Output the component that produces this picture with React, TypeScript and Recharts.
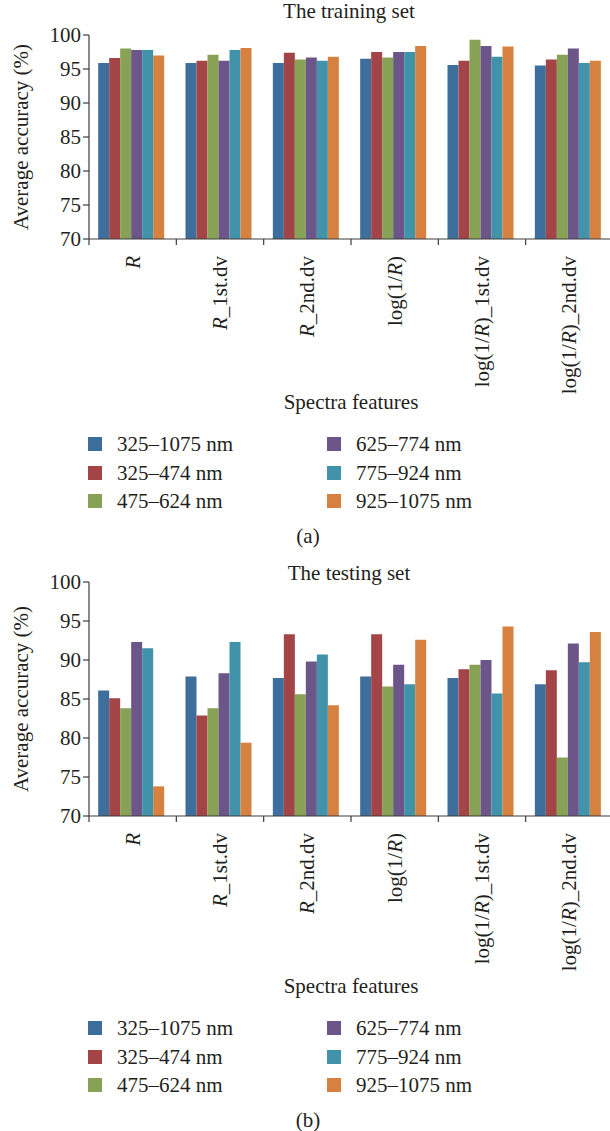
import React from 'react';
import { BarChart, Bar, XAxis, YAxis, Label } from 'recharts';

const FONT = "'Liberation Serif', 'DejaVu Serif', serif";
const FS = 21;
const INK = '#231f20';
const AXIS = '#3c3c3c';

const FEATURES = ['R', 'R_1st.dv', 'R_2nd.dv', 'log(1/R)', 'log(1/R)_1st.dv', 'log(1/R)_2nd.dv'];
const BANDS = ['325–1075 nm', '325–474 nm', '475–624 nm', '625–774 nm', '775–924 nm', '925–1075 nm'];
const COLORS = ['#3e6e9c', '#a34546', '#87a155', '#6c5689', '#4193a9', '#d68140'];
const Y_TICKS = [70, 75, 80, 85, 90, 95, 100];

// training set, one array per wavelength band (in FEATURES order)
const train325_1075 = [95.9, 95.9, 95.9, 96.5, 95.6, 95.5];
const train325_474 = [96.6, 96.2, 97.4, 97.5, 96.2, 96.4];
const train475_624 = [98.0, 97.1, 96.4, 96.7, 99.3, 97.1];
const train625_774 = [97.8, 96.2, 96.7, 97.5, 98.4, 98.0];
const train775_924 = [97.8, 97.8, 96.2, 97.5, 96.8, 95.9];
const train925_1075 = [97.0, 98.1, 96.8, 98.4, 98.3, 96.2];

// testing set
const test325_1075 = [86.1, 87.9, 87.7, 87.9, 87.7, 86.9];
const test325_474 = [85.1, 82.9, 93.3, 93.3, 88.8, 88.7];
const test475_624 = [83.8, 83.8, 85.6, 86.6, 89.4, 77.5];
const test625_774 = [92.3, 88.3, 89.8, 89.4, 90.0, 92.1];
const test775_924 = [91.5, 92.3, 90.7, 86.9, 85.7, 89.7];
const test925_1075 = [73.8, 79.4, 84.2, 92.6, 94.3, 93.6];

const TRAIN = [train325_1075, train325_474, train475_624, train625_774, train775_924, train925_1075];
const TEST = [test325_1075, test325_474, test475_624, test625_774, test775_924, test925_1075];

const toRows = (series: number[][]) =>
  FEATURES.map((feature, i) => {
    const row: Record<string, string | number> = { feature };
    series.forEach((s, k) => {
      row[`b${k}`] = s[i];
    });
    return row;
  });

// rotated category label (R in italics) plus the short tick at the left edge of its group
const FeatureTick = ({ x, y, payload, width, visibleTicksCount }: any) => {
  const band = width && visibleTicksCount ? width / visibleTicksCount : (payload.offset || 0) * 2;
  const edge = x - band / 2;
  const parts = String(payload.value).split('R');
  return (
    <g>
      <line x1={edge} x2={edge} y1={y} y2={y + 6} stroke={AXIS} strokeWidth={1.2} />
      <text
        transform={`translate(${x},${y + 17}) rotate(-90)`}
        textAnchor="end"
        dy="0.33em"
        fontSize={FS}
        fontFamily={FONT}
        fill={INK}
      >
        {parts.map((p, i) => (
          <React.Fragment key={i}>
            {i > 0 && <tspan fontStyle="italic">R</tspan>}
            {p && <tspan>{p}</tspan>}
          </React.Fragment>
        ))}
      </text>
    </g>
  );
};

const textStyle: React.CSSProperties = {
  position: 'absolute',
  fontFamily: FONT,
  fontSize: FS,
  lineHeight: '24px',
  color: INK,
  whiteSpace: 'nowrap',
};

type PanelProps = {
  top: number;
  title: string;
  titleY: number;
  series: number[][];
  plotTop: number;
  plotHeight: number;
  axisHeight: number;
  featuresY: number;
  legendY: number;
  caption: string;
  captionY: number;
};

const Panel = ({ top, title, titleY, series, plotTop, plotHeight, axisHeight, featuresY, legendY, caption, captionY }: PanelProps) => {
  const data = toRows(series);
  return (
    <>
      <div style={{ ...textStyle, top: top + titleY - 14, left: 89, width: 520, textAlign: 'center' }}>{title}</div>
      <div style={{ position: 'absolute', top, left: 0 }}>
        <BarChart
          width={613}
          height={plotTop + plotHeight + axisHeight}
          data={data}
          margin={{ top: plotTop, right: 0, bottom: 0, left: 0 }}
          barCategoryGap="10.5%"
          barGap={0}
        >
          <XAxis
            dataKey="feature"
            interval={0}
            height={axisHeight}
            tickSize={0}
            tickMargin={0}
            tickLine={false}
            axisLine={{ stroke: AXIS, strokeWidth: 1.2 }}
            tick={<FeatureTick />}
          >
            <Label
              content={({ viewBox }: any) => (
                <text
                  x={viewBox.x + viewBox.width / 2}
                  y={viewBox.y + featuresY}
                  textAnchor="middle"
                  fontSize={FS}
                  fontFamily={FONT}
                  fill={INK}
                >
                  Spectra features
                </text>
              )}
            />
          </XAxis>
          <YAxis
            width={89}
            domain={[70, 100]}
            ticks={Y_TICKS}
            interval={0}
            allowDataOverflow
            tickSize={6}
            tickMargin={2}
            axisLine={{ stroke: AXIS, strokeWidth: 1.2 }}
            tickLine={{ stroke: AXIS, strokeWidth: 1.2 }}
            tick={{ fontSize: FS, fontFamily: FONT, fill: INK }}
          >
            <Label
              content={({ viewBox }: any) => {
                const cy = viewBox.y + viewBox.height / 2;
                return (
                  <text
                    x={28}
                    y={cy}
                    transform={`rotate(-90, 28, ${cy})`}
                    textAnchor="middle"
                    fontSize={FS}
                    fontFamily={FONT}
                    fill={INK}
                  >
                    Average accuracy (%)
                  </text>
                );
              }}
            />
          </YAxis>
          {BANDS.map((band, k) => (
            <Bar key={band} name={band} dataKey={`b${k}`} fill={COLORS[k]} isAnimationActive={false} />
          ))}
        </BarChart>
      </div>
      {BANDS.map((band, k) => {
        const col = Math.floor(k / 3);
        const row = k % 3;
        const cy = top + legendY + row * 28.5;
        const sx = col === 0 ? 88 : 327;
        return (
          <React.Fragment key={band}>
            <div style={{ position: 'absolute', top: cy - 7, left: sx, width: 14, height: 14, background: COLORS[k] }} />
            <div style={{ ...textStyle, top: cy - 12, left: sx + 29 }}>{band}</div>
          </React.Fragment>
        );
      })}
      <div style={{ ...textStyle, top: top + captionY - 14, left: 258, width: 100, textAlign: 'center' }}>{caption}</div>
    </>
  );
};

export default function App() {
  return (
    <div style={{ position: 'absolute', top: 0, left: 0, width: 610, height: 1131, overflow: 'hidden', background: '#fff' }}>
      <Panel
        top={0}
        title="The training set"
        titleY={13}
        series={TRAIN}
        plotTop={35}
        plotHeight={204}
        axisHeight={176}
        featuresY={170}
        legendY={444}
        caption="(a)"
        captionY={538}
      />
      <Panel
        top={546}
        title="The testing set"
        titleY={29}
        series={TEST}
        plotTop={36}
        plotHeight={234}
        axisHeight={183}
        featuresY={177}
        legendY={482}
        caption="(b)"
        captionY={576}
      />
    </div>
  );
}
